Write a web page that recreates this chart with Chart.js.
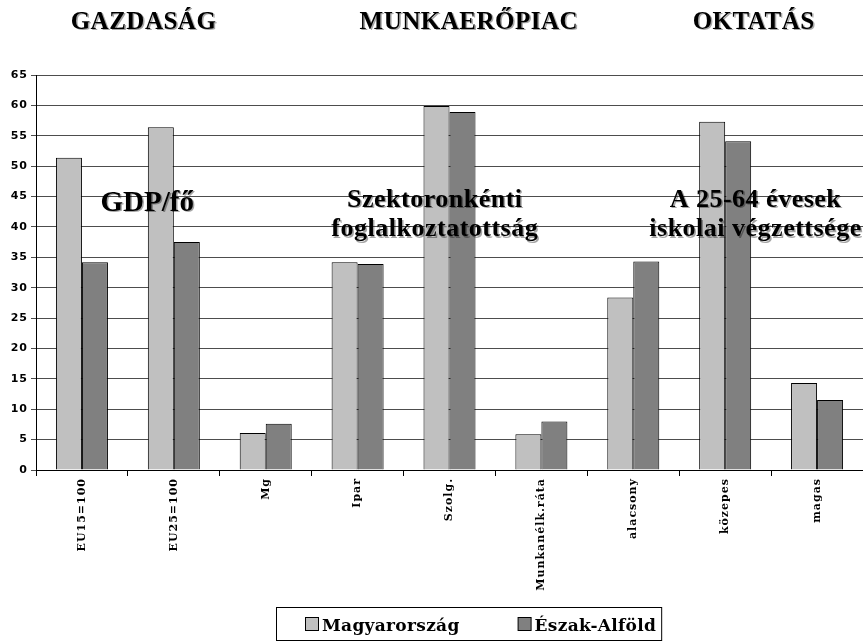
<!DOCTYPE html>
<html>
<head>
<meta charset="utf-8">
<script src="https://cdn.jsdelivr.net/npm/chart.js@4"></script>
<style>
  html, body { margin: 0; padding: 0; background: #fff; }
  #wrap { width: 863px; height: 641px; }
</style>
</head>
<body>
<div id="wrap"><canvas id="chart"></canvas></div>
<script>
const categories = ['EU15=100', 'EU25=100', 'Mg', 'Ipar', 'Szolg.', 'Munkanélk.ráta', 'alacsony', 'közepes', 'magas'];
const magyarorszag = [51.4, 56.4, 6.1, 34.2, 59.9, 5.9, 28.4, 57.3, 14.3];
const eszakAlfold = [34.2, 37.5, 7.6, 33.9, 58.9, 8.0, 34.3, 54.1, 11.5];
const seriesNames = ['Magyarország', 'Észak-Alföld'];
const groupTitles = ['GAZDASÁG', 'MUNKAERŐPIAC', 'OKTATÁS'];
const groupNotes = [['GDP/fő'], ['Szektoronkénti', 'foglalkoztatottság'], ['A 25-64 évesek', 'iskolai végzettsége']];

// text with a small grey drop shadow, like the original slide
function shadowText(ctx, text, x, y) {
  const c = ctx.fillStyle;
  ctx.fillStyle = 'rgba(0,0,0,0.35)';
  ctx.fillText(text, x + 1.5, y + 1.5);
  ctx.fillStyle = c;
  ctx.fillText(text, x, y);
}

// spaced-out tick labels
const spacing = {
  id: 'spacing',
  beforeLayout(chart) { chart.ctx.letterSpacing = '1px'; },
  beforeDraw(chart) { chart.ctx.letterSpacing = '1px'; },
};

const overlay = {
  id: 'overlay',
  afterDraw(chart) {
    const { ctx } = chart;
    const x = chart.scales.x;
    const y = chart.scales.y;
    ctx.save();
    ctx.fillStyle = '#000';
    ctx.textAlign = 'center';
    ctx.textBaseline = 'alphabetic';

    // group headers above the plot
    ctx.font = 'bold 25px "Liberation Serif"';
    ctx.letterSpacing = '0.5px';
    const headerAt = [0.67, 4.21, 7.31];
    groupTitles.forEach((t, i) => shadowText(ctx, t, x.getPixelForValue(headerAt[i]), y.getPixelForValue(72.6)));

    // notes inside the plot
    ctx.letterSpacing = '0px';
    ctx.font = 'bold 29px "Liberation Serif"';
    shadowText(ctx, groupNotes[0][0], x.getPixelForValue(0.71), y.getPixelForValue(42.7));
    ctx.font = 'bold 26px "Liberation Serif"';
    ctx.letterSpacing = '0.5px';
    [1, 2].forEach(g => {
      const at = g === 1 ? 3.84 : 7.33;
      groupNotes[g].forEach((line, k) => {
        shadowText(ctx, line, x.getPixelForValue(at), y.getPixelForValue(k === 0 ? 43.3 : 38.45));
      });
    });

    // legend with a frame
    ctx.font = 'bold 17px "DejaVu Serif"';
    ctx.letterSpacing = '0.3px';
    ctx.textAlign = 'left';
    const ds = chart.data.datasets;
    const box = 13, gapText = 4, gapItem = 58;
    const widths = ds.map(d => box + gapText + ctx.measureText(d.label).width);
    const total = widths.reduce((a, b) => a + b, 0) + gapItem * (ds.length - 1);
    let lx = Math.round(481 - total / 2);
    const top = 607.5, cy = 624;
    ctx.strokeStyle = '#000';
    ctx.lineWidth = 1;
    ctx.strokeRect(lx - 28.5, top, total + 34, 33);
    ds.forEach((d, i) => {
      ctx.fillStyle = d.backgroundColor;
      ctx.fillRect(lx + 0.5, cy - 6.5, box, box);
      ctx.strokeRect(lx + 0.5, cy - 6.5, box, box);
      ctx.fillStyle = '#000';
      ctx.fillText(d.label, lx + box + gapText, cy + 7);
      lx += widths[i] + gapItem;
    });
    ctx.restore();
  },
};

new Chart(document.getElementById('chart'), {
  type: 'bar',
  data: {
    labels: categories,
    datasets: [
      { label: seriesNames[0], data: magyarorszag, backgroundColor: '#C0C0C0', borderColor: '#000', borderWidth: 1 },
      { label: seriesNames[1], data: eszakAlfold, backgroundColor: '#808080', borderColor: '#000', borderWidth: 1 },
    ],
  },
  options: {
    responsive: true,
    maintainAspectRatio: false,
    animation: false,
    datasets: { bar: { categoryPercentage: 0.566, barPercentage: 1.0 } },
    layout: { padding: { top: 75, left: 0, right: 0, bottom: 41 } },
    plugins: {
      legend: { display: false },
      tooltip: { enabled: false },
    },
    scales: {
      x: {
        afterFit(scale) { scale.height = 130; },
        grid: { offset: true, drawOnChartArea: false, drawTicks: true, tickLength: 6, color: '#000' },
        border: { display: true, color: '#000', width: 1 },
        ticks: {
          autoSkip: false,
          minRotation: 90,
          maxRotation: 90,
          padding: 2,
          color: '#000',
          font: { family: '"DejaVu Serif"', size: 11, weight: 'bold' },
        },
      },
      y: {
        min: 0,
        max: 65,
        afterFit(scale) { scale.width = 36; },
        grid: { color: '#4d4d4d', tickLength: 5, drawTicks: true },
        border: { display: true, color: '#000', width: 1 },
        ticks: {
          stepSize: 5,
          padding: 3,
          color: '#000',
          font: { family: '"DejaVu Sans"', size: 11, weight: 'bold' },
        },
      },
    },
  },
  plugins: [spacing, overlay],
});
</script>
</body>
</html>
